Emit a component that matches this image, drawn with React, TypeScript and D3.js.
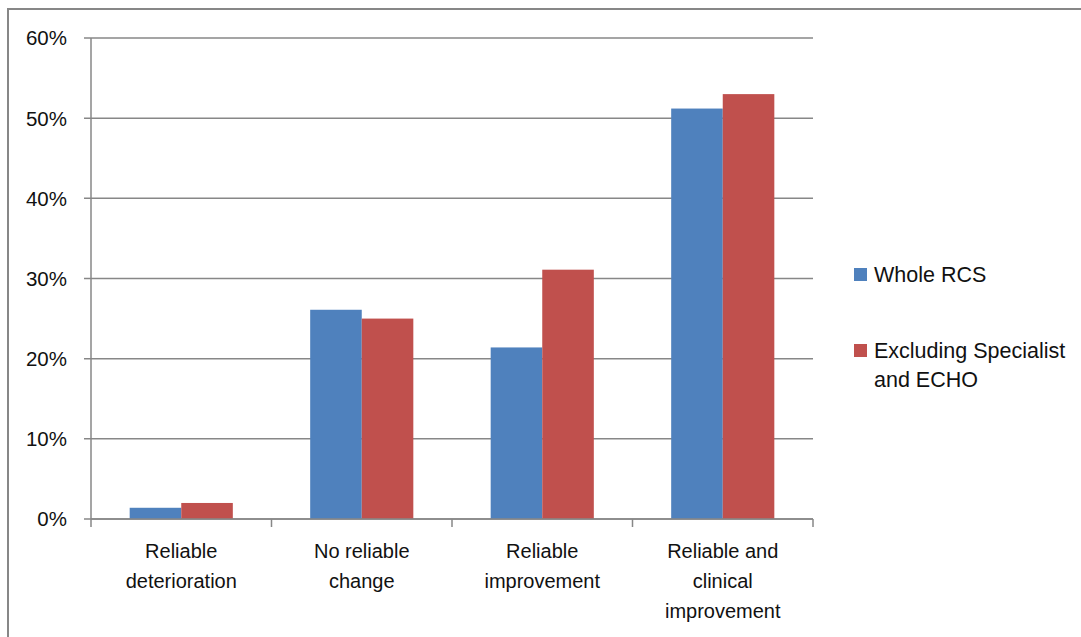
import React from "react";
import * as d3 from "d3";

const categories = [
  "Reliable deterioration",
  "No reliable change",
  "Reliable improvement",
  "Reliable and clinical improvement",
];
const categoryLines = [
  ["Reliable", "deterioration"],
  ["No reliable", "change"],
  ["Reliable", "improvement"],
  ["Reliable and", "clinical", "improvement"],
];
const seriesNames = ["Whole RCS", "Excluding Specialist and ECHO"];
const legendLines = [["Whole RCS"], ["Excluding Specialist", "and ECHO"]];
const wholeRCS = [0.014, 0.261, 0.214, 0.512];
const excludingSpecialist = [0.02, 0.25, 0.311, 0.53];
const yTicks = [0, 0.1, 0.2, 0.3, 0.4, 0.5, 0.6];
const seriesColors = ["#4F81BD", "#C0504D"];

const W = 1081;
const H = 637;
const plot = { left: 91, right: 813, top: 38, bottom: 519 };
const FONT = "'Liberation Sans', Arial, sans-serif";
const GRID = "#878787";
const TEXT = "#111";

export default function App() {
  const x = d3
    .scaleBand<string>()
    .domain(categories)
    .range([plot.left, plot.right])
    .paddingInner(0)
    .paddingOuter(0);
  const step = x.step();
  const inner = d3
    .scaleBand<string>()
    .domain(seriesNames)
    .range([0, step])
    .paddingInner(0)
    .paddingOuter(0.75);
  const y = d3.scaleLinear().domain([0, 0.6]).range([plot.bottom, plot.top]);
  const fmt = d3.format(".0%");
  const seriesValues = [wholeRCS, excludingSpecialist];

  return (
    <svg
      width={W}
      height={H}
      style={{ position: "absolute", left: 0, top: 0, background: "#fff" }}
    >
      <rect x={0} y={0} width={W} height={H} fill="#fff" />
      {/* chart border */}
      <rect x={8} y={9} width={W + 40} height={H + 40} fill="none" stroke={GRID} strokeWidth={2} />

      {/* horizontal gridlines and y ticks */}
      {yTicks.map((t) => (
        <g key={t}>
          <line
            x1={plot.left - 7}
            x2={plot.right}
            y1={y(t)}
            y2={y(t)}
            stroke={GRID}
            strokeWidth={1.5}
          />
          <text
            x={67}
            y={y(t)}
            dy="0.36em"
            textAnchor="end"
            fontFamily={FONT}
            fontSize={20.5}
            fill={TEXT}
          >
            {fmt(t)}
          </text>
        </g>
      ))}

      {/* bars */}
      {seriesValues.map((vals, si) =>
        vals.map((v, ci) => (
          <rect
            key={`${si}-${ci}`}
            x={(x(categories[ci]) ?? 0) + (inner(seriesNames[si]) ?? 0)}
            y={y(v)}
            width={inner.bandwidth()}
            height={y(0) - y(v)}
            fill={seriesColors[si]}
          />
        ))
      )}

      {/* axes */}
      <line x1={plot.left} x2={plot.left} y1={plot.top} y2={plot.bottom} stroke={GRID} strokeWidth={1.5} />
      <line x1={plot.left} x2={plot.right} y1={plot.bottom} y2={plot.bottom} stroke={GRID} strokeWidth={1.5} />
      {d3.range(categories.length + 1).map((i) => (
        <line
          key={i}
          x1={plot.left + i * step}
          x2={plot.left + i * step}
          y1={plot.bottom}
          y2={plot.bottom + 8}
          stroke={GRID}
          strokeWidth={1.5}
        />
      ))}

      {/* category labels */}
      {categoryLines.map((lines, ci) => (
        <text
          key={ci}
          x={(x(categories[ci]) ?? 0) + step / 2}
          y={558}
          textAnchor="middle"
          fontFamily={FONT}
          fontSize={20}
          fill={TEXT}
        >
          {lines.map((l, li) => (
            <tspan key={li} x={(x(categories[ci]) ?? 0) + step / 2} dy={li === 0 ? 0 : 30}>
              {l}
            </tspan>
          ))}
        </text>
      ))}

      {/* legend */}
      {legendLines.map((lines, si) => {
        const top = si === 0 ? 268 : 344;
        return (
          <g key={si}>
            <rect x={854} y={top} width={13} height={13} fill={seriesColors[si]} />
            <text x={874} y={top + 14} fontFamily={FONT} fontSize={21.5} fill={TEXT}>
              {lines.map((l, li) => (
                <tspan key={li} x={874} dy={li === 0 ? 0 : 29}>
                  {l}
                </tspan>
              ))}
            </text>
          </g>
        );
      })}
    </svg>
  );
}
